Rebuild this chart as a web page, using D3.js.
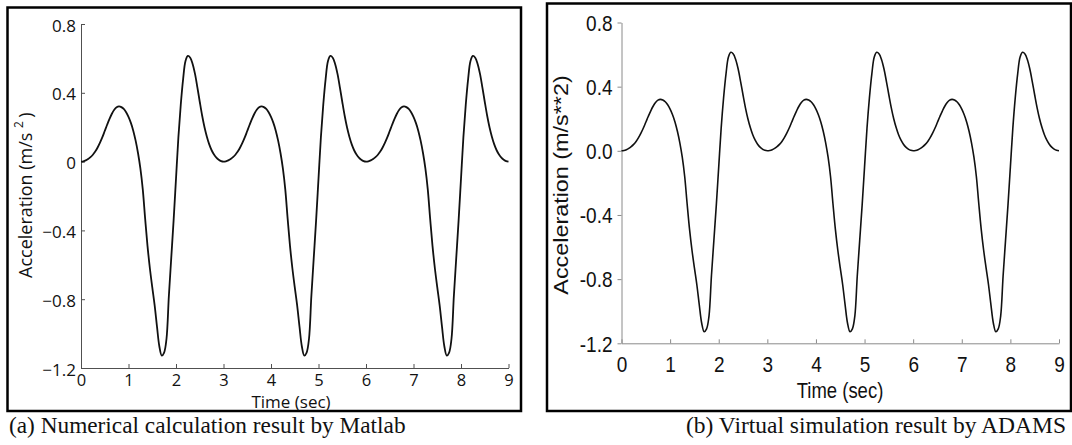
<!DOCTYPE html>
<html>
<head>
<meta charset="utf-8">
<script src="https://cdn.jsdelivr.net/npm/d3@7"></script>
<style>
  html, body { margin: 0; padding: 0; background: #fff; }
  svg { display: block; }
</style>
</head>
<body>
<svg id="chart" width="1072" height="445"></svg>
<script>
// ---------------- DATA ----------------
const timeStep = 0.05;              // seconds between samples
const timeDomain = [0, 9];
const accelDomain = [-1.2, 0.8];

// Acceleration (m/s^2), t = 0 ... 9 s every 0.05 s
const matlabAccel = [
  0.000, 0.002, 0.007, 0.015, 0.026, 0.040, 0.058, 0.082, 0.110, 0.142,
  0.178, 0.214, 0.248, 0.278, 0.301, 0.316, 0.321, 0.317, 0.306, 0.287,
  0.260, 0.225, 0.180, 0.122, 0.050, -0.040, -0.160, -0.330, -0.490, -0.620,
  -0.730, -0.835, -0.960, -1.075, -1.128, -1.110, -1.030, -0.780, -0.560, -0.340,
  -0.100, 0.140, 0.330, 0.480, 0.585, 0.614, 0.604, 0.568, 0.510, 0.432,
  0.348, 0.268, 0.200, 0.145, 0.100, 0.066, 0.041, 0.023, 0.011, 0.003,
  0.000,
  0.002, 0.007, 0.015, 0.026, 0.040, 0.058, 0.082, 0.110, 0.142,
  0.178, 0.214, 0.248, 0.278, 0.301, 0.316, 0.321, 0.317, 0.306, 0.287,
  0.260, 0.225, 0.180, 0.122, 0.050, -0.040, -0.160, -0.330, -0.490, -0.620,
  -0.730, -0.835, -0.960, -1.075, -1.128, -1.110, -1.030, -0.780, -0.560, -0.340,
  -0.100, 0.140, 0.330, 0.480, 0.585, 0.614, 0.604, 0.568, 0.510, 0.432,
  0.348, 0.268, 0.200, 0.145, 0.100, 0.066, 0.041, 0.023, 0.011, 0.003,
  0.000,
  0.002, 0.007, 0.015, 0.026, 0.040, 0.058, 0.082, 0.110, 0.142,
  0.178, 0.214, 0.248, 0.278, 0.301, 0.316, 0.321, 0.317, 0.306, 0.287,
  0.260, 0.225, 0.180, 0.122, 0.050, -0.040, -0.160, -0.330, -0.490, -0.620,
  -0.730, -0.835, -0.960, -1.075, -1.128, -1.110, -1.030, -0.780, -0.560, -0.340,
  -0.100, 0.140, 0.330, 0.480, 0.585, 0.614, 0.604, 0.568, 0.510, 0.432,
  0.348, 0.268, 0.200, 0.145, 0.100, 0.066, 0.041, 0.023, 0.011, 0.003,
  0.000
];
// ADAMS panel reads the same curve
const adamsAccel = matlabAccel.slice();

const xTicks = [0, 1, 2, 3, 4, 5, 6, 7, 8, 9];
const yTicksLeft = [-1.2, -0.8, -0.4, 0, 0.4, 0.8];
const yTickLabelsLeft = ["\u22121.2", "\u22120.8", "\u22120.4", "0", "0.4", "0.8"];
const yTicksRight = [-1.2, -0.8, -0.4, 0.0, 0.4, 0.8];
const yTickLabelsRight = ["-1.2", "-0.8", "-0.4", "0.0", "0.4", "0.8"];
const xLabel = "Time (sec)";
const yLabelLeft = ["Acceleration (m/s", "2", ")"];
const yLabelRight = "Acceleration (m/s**2)";
const captionLeft = "(a) Numerical calculation result by Matlab";
const captionRight = "(b) Virtual simulation result by ADAMS";

// ---------------- DRAW ----------------
const svg = d3.select("#chart");
const toPoints = arr => arr.map((v, i) => [i * timeStep, v]);

// ===== Left panel (Matlab) =====
const xL = d3.scaleLinear().domain(timeDomain).range([81, 508.5]);
const yL = d3.scaleLinear().domain(accelDomain).range([368, 24]);
const leftFont = "'Open Sans', 'Noto Sans', sans-serif";
const axisGrayL = "#505050";

svg.append("rect").attr("x", 7.5).attr("y", 7.5).attr("width", 513.5).attr("height", 403.5)
  .attr("fill", "none").attr("stroke", "#000").attr("stroke-width", 2.5);

const gxL = svg.append("g").attr("transform", `translate(0,${yL(-1.2)})`)
  .call(d3.axisBottom(xL).tickValues(xTicks).tickSizeInner(-4).tickSizeOuter(0).tickPadding(7).tickFormat(d3.format("d")));
const gyL = svg.append("g").attr("transform", `translate(${xL(0)},0)`)
  .call(d3.axisLeft(yL).tickValues(yTicksLeft).tickSizeInner(-4).tickSizeOuter(0).tickPadding(5)
    .tickFormat((d, i) => yTickLabelsLeft[i]));
[gxL, gyL].forEach(g => {
  g.select(".domain").attr("stroke", axisGrayL);
  g.selectAll(".tick line").attr("stroke", axisGrayL);
  g.selectAll(".tick text").attr("fill", "#111").style("font-family", leftFont).style("font-size", "17px");
});
gyL.selectAll(".tick text").attr("dy", "0.42em");
gxL.selectAll(".tick text").style("font-size", "16.5px").attr("dy", "0.68em");

svg.append("path").datum(toPoints(matlabAccel))
  .attr("fill", "none").attr("stroke", "#111").attr("stroke-width", 1.8)
  .attr("d", d3.line().x(d => xL(d[0])).y(d => yL(d[1])).curve(d3.curveCatmullRom.alpha(0.5)));

svg.append("text").attr("x", 291).attr("y", 408).attr("text-anchor", "middle")
  .style("font-family", leftFont).style("font-size", "17px").attr("fill", "#111").text(xLabel);

const ylt = svg.append("text").attr("transform", "translate(32,278) rotate(-90)")
  .style("font-family", leftFont).style("font-size", "18px").attr("fill", "#111");
ylt.append("tspan").text(yLabelLeft[0]);
ylt.append("tspan").attr("dx", 4.5).attr("dy", -9).style("font-size", "12px").text(yLabelLeft[1]);
ylt.append("tspan").attr("dx", 3.5).attr("dy", 9).text(yLabelLeft[2]);

// ===== Right panel (ADAMS) =====
const xR = d3.scaleLinear().domain(timeDomain).range([621.5, 1059]);
const yR = d3.scaleLinear().domain(accelDomain).range([343.3, 22.5]);
const rightFont = "'Liberation Sans', Arial, sans-serif";
const axisGrayR = "#8a8a8a";

svg.append("rect").attr("x", 547).attr("y", 3.5).attr("width", 524).attr("height", 407.5)
  .attr("fill", "none").attr("stroke", "#000").attr("stroke-width", 2.5);

const gxR = svg.append("g").attr("transform", `translate(0,${yR(-1.2)})`)
  .call(d3.axisBottom(xR).tickValues(xTicks).tickSizeInner(-4).tickSizeOuter(0).tickFormat(d3.format("d")));
const gyR = svg.append("g").attr("transform", `translate(${xR(0)},0)`)
  .call(d3.axisLeft(yR).tickValues(yTicksRight).tickSizeInner(4).tickSizeOuter(0).tickPadding(5)
    .tickFormat((d, i) => yTickLabelsRight[i]));
[gxR, gyR].forEach(g => {
  g.select(".domain").attr("stroke", axisGrayR);
  g.selectAll(".tick line").attr("stroke", axisGrayR);
  g.selectAll(".tick text").attr("fill", "#111").style("font-family", rightFont).style("font-size", "19px");
});
gxR.selectAll(".tick text").attr("y", 0).attr("dy", 0).attr("transform", "translate(0,28.7) scale(1,1.13)");
gyR.selectAll(".tick text").attr("dy", "0.36em").attr("transform", "scale(1,1.13)");

svg.append("path").datum(toPoints(adamsAccel))
  .attr("fill", "none").attr("stroke", "#111").attr("stroke-width", 1.6)
  .attr("d", d3.line().x(d => xR(d[0])).y(d => yR(d[1])).curve(d3.curveCatmullRom.alpha(0.5)));

svg.append("text").attr("transform", "translate(840,398) scale(1,1.15)").attr("text-anchor", "middle")
  .style("font-family", rightFont).style("font-size", "18.5px").attr("fill", "#111").text(xLabel);

svg.append("text").attr("transform", "translate(568,185) rotate(-90) scale(1.14,1)").attr("text-anchor", "middle")
  .style("font-family", rightFont).style("font-size", "20.5px").attr("fill", "#111").text(yLabelRight);

// ===== Captions =====
const capFont = "'Liberation Serif', 'Times New Roman', serif";
svg.append("text").attr("x", 9).attr("y", 433).style("font-family", capFont).style("font-size", "23.3px")
  .attr("fill", "#111").text(captionLeft);
svg.append("text").attr("x", 1066).attr("y", 433).attr("text-anchor", "end").style("font-family", capFont)
  .style("font-size", "23.5px").attr("fill", "#111").text(captionRight);
</script>
</body>
</html>
